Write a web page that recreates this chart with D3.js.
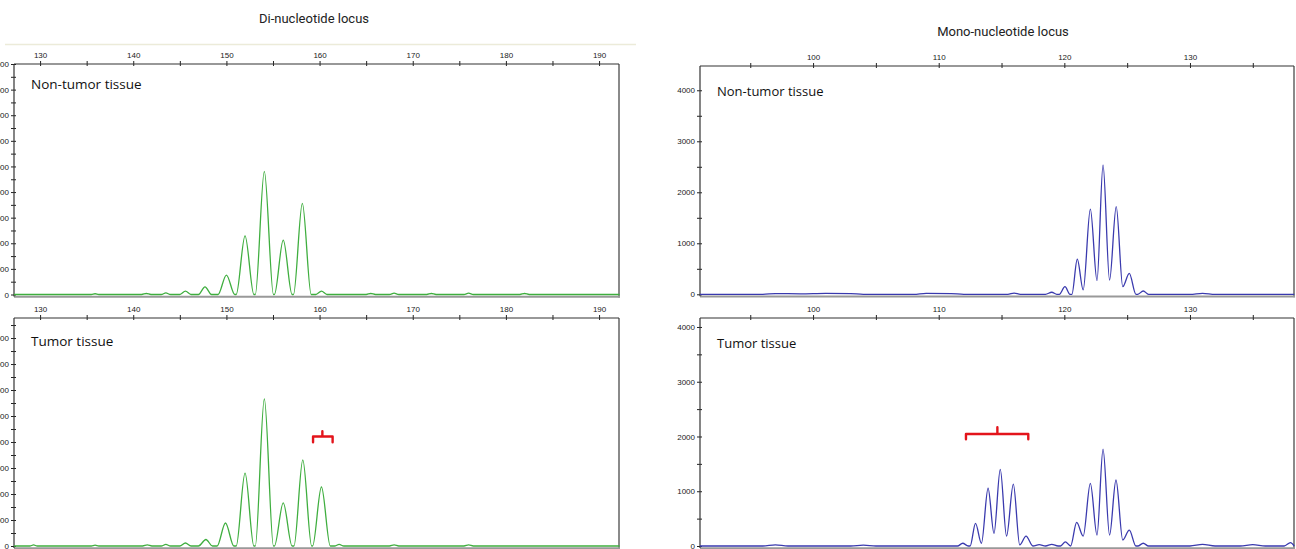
<!DOCTYPE html>
<html>
<head>
<meta charset="utf-8">
<script src="https://cdn.jsdelivr.net/npm/d3@7"></script>
<style>
  html, body { margin: 0; padding: 0; background: #fff; }
  svg { display: block; }
  .tick text { font-family: "Liberation Sans", Arial, sans-serif; font-size: 8px; fill: #222; }
  .tick line { stroke: #222; }
  .title { font-family: Roboto, sans-serif; font-size: 13px; fill: #222; }
  .tissue { font-family: "Open Sans", sans-serif; font-size: 13.5px; fill: #111; }
</style>
</head>
<body>
<div id="visHolder"></div>
<script>
/* peak traces: fragment size (bp) and height (rfu) */
const diNormalSize = [127.2,135.5,135.9,136.3,140.9,141.4,141.9,143.0,143.5,144.0,145.0,145.6,146.2,147.0,147.7,148.4,149.1,150.0,150.9,151.05,152.0,152.95,153.1,154.07,155.05,155.15,156.1,157.05,157.2,158.15,159.1,159.6,160.2,160.8,165.0,165.5,166.0,167.5,168.0,168.5,171.5,172.0,172.5,175.5,176.0,176.5,181.5,182.0,182.5,192.2];
const diNormalRfu  = [0,0,30,0,0,40,0,0,60,0,0,130,0,0,300,0,0,760,0,0,2290,0,0,4810,0,0,2120,0,0,3560,0,0,130,0,0,40,0,0,50,0,0,40,0,0,50,0,0,40,0,0];

const diTumorSize = [127.2,128.9,129.3,129.7,135.5,135.9,136.3,141.0,141.5,142.0,143.0,143.5,144.0,145.0,145.6,146.2,147.0,147.8,148.5,149.0,149.9,150.8,151.05,152.0,152.95,153.1,154.07,155.05,155.15,156.1,157.05,157.25,158.2,159.15,159.25,160.2,161.15,161.6,162.1,162.6,167.5,168.0,168.5,175.5,176.0,176.5,192.2];
const diTumorRfu  = [0,0,40,0,0,30,0,0,40,0,0,60,0,0,115,0,0,250,0,0,885,0,0,2800,0,0,5655,0,0,1655,0,0,3310,0,0,2270,0,0,60,0,0,40,0,0,40,0,0];

const monoNormalSize = [91.0,96.0,97.0,99.0,101.0,103.0,104.0,108.0,109.0,111.0,112.0,115.5,116.0,116.5,118.5,119.0,119.4,119.6,120.05,120.45,120.6,121.03,121.5,122.07,122.6,123.08,123.6,124.13,124.65,125.17,125.7,125.85,126.28,126.7,130.0,131.0,132.0,138.3];
const monoNormalRfu  = [0,0,15,10,20,15,0,0,20,15,0,0,25,0,0,40,0,0,150,0,0,690,85,1670,270,2535,280,1720,150,410,0,0,65,0,0,20,0,0];

const monoTumorSize = [91.0,96.0,97.0,98.0,103.0,104.0,105.0,111.5,111.91,112.35,112.5,112.93,113.4,113.93,114.4,114.9,115.4,115.94,116.45,116.95,117.5,118.0,118.5,119.0,119.5,119.7,120.08,120.5,120.98,121.5,122.07,122.6,123.08,123.6,124.11,124.65,125.17,125.7,125.85,126.28,126.7,130.0,131.0,132.0,134.0,135.0,136.0,137.5,138.0,138.3];
const monoTumorRfu  = [0,0,20,0,0,15,0,0,50,0,0,415,50,1055,230,1400,180,1130,20,180,0,25,0,30,0,0,75,0,430,180,1145,200,1770,200,1205,110,290,0,0,50,0,0,30,0,0,25,0,0,60,0];

/* red brackets marking the new alleles: [from, centre, to] bp and [end, bar, tip] rfu */
const diBracketSize = [159.3, 160.3, 161.4];
const diBracketRfu  = [3990, 4210, 4415];
const monoBracketSize = [112.17, 114.67, 117.13];
const monoBracketRfu  = [1950, 2045, 2170];

/* axis ticks */
const diTicks = [130,135,140,145,150,155,160,165,170,175,180,185,190];
const monoTicks = [95,100,105,110,115,120,125,130,135];
const diNormalYTicks = [0,500,1000,1500,2000,2500,3000,3500,4000,4500,5000,5500,6000,6500,7000,7500,8000,8500,9000];
const diTumorYTicks  = [0,500,1000,1500,2000,2500,3000,3500,4000,4500,5000,5500,6000,6500,7000,7500,8000,8500];
const monoYTicks = [0,500,1000,1500,2000,2500,3000,3500,4000];

const width = 1296, height = 549;

const svg = d3.select("#visHolder")
    .append("svg")
    .attr("width", width)
    .attr("height", height);

/* titles */
svg.append("text").attr("class", "title")
    .attr("x", 314).attr("y", 23).attr("text-anchor", "middle")
    .text("Di-nucleotide locus");
svg.append("text").attr("class", "title")
    .attr("x", 1003).attr("y", 36).attr("text-anchor", "middle")
    .text("Mono-nucleotide locus");

/* faint strip left under the first title */
svg.append("line")
    .attr("x1", 5).attr("x2", 636).attr("y1", 44.5).attr("y2", 44.5)
    .attr("stroke", "#ecebd9").attr("stroke-width", 1.5);

function drawPanel(p){
    const x = d3.scaleLinear().domain(p.xDomain).range([p.left, p.right]);
    const y = d3.scaleLinear().domain(p.yDomain).range([p.zero, p.top]);

    /* right border and bottom base line (gray) */
    svg.append("line")
        .attr("x1", p.right).attr("x2", p.right).attr("y1", p.top).attr("y2", p.zero + 3)
        .attr("stroke", "#8a8a8a").attr("stroke-width", 2);
    svg.append("line")
        .attr("x1", p.left).attr("x2", p.right + 1).attr("y1", p.zero + 2.2).attr("y2", p.zero + 2.2)
        .attr("stroke", "#999").attr("stroke-width", 2);

    /* top axis */
    const xAxis = d3.axisTop(x)
        .tickValues(p.xTicks)
        .tickSize(3)
        .tickSizeOuter(0)
        .tickFormat(d => d % 10 === 0 ? d : "");
    const gx = svg.append("g")
        .attr("transform", "translate(0," + p.top + ")")
        .call(xAxis);
    gx.select(".domain").remove();
    gx.selectAll(".tick line").attr("y1", 2).attr("y2", -3);
    gx.selectAll(".tick text").attr("y", -6);
    svg.append("line")
        .attr("x1", p.left).attr("x2", p.right).attr("y1", p.top).attr("y2", p.top)
        .attr("stroke", "#333").attr("stroke-width", 1.2);

    /* left axis, labels run off the page edge on the left panels like the source */
    const yAxis = d3.axisLeft(y)
        .tickValues(p.yTicks)
        .tickSize(3)
        .tickSizeOuter(0)
        .tickFormat(d => d % 1000 === 0 ? d : "");
    const gy = svg.append("g")
        .attr("transform", "translate(" + p.left + ",0)")
        .call(yAxis);
    gy.select(".domain").remove();
    gy.selectAll(".tick line").attr("x1", 2).attr("x2", -3);
    gy.selectAll(".tick text").attr("x", -5);
    svg.append("line")
        .attr("x1", p.left).attr("x2", p.left).attr("y1", p.top).attr("y2", p.zero + 2)
        .attr("stroke", "#333").attr("stroke-width", 1.2);

    /* the trace */
    const pts = p.size.map((s, i) => [s, p.rfu[i]]);
    const line = d3.line()
        .x(d => x(d[0]))
        .y(d => y(d[1]))
        .curve(d3.curveMonotoneX);
    svg.append("path")
        .datum(pts)
        .attr("d", line)
        .attr("fill", "none")
        .attr("stroke", p.color)
        .attr("stroke-width", 1.3)
        .attr("stroke-linejoin", "round");

    /* label */
    svg.append("text").attr("class", "tissue")
        .attr("x", p.labelX).attr("y", p.labelY)
        .style("font-size", p.labelSize + "px")
        .text(p.label);

    /* bracket */
    if(p.bracketSize){
        const bs = p.bracketSize, br = p.bracketRfu;
        const bp = [[bs[0], br[0]], [bs[0], br[1]], [bs[1], br[1]], [bs[1], br[2]],
                    [bs[1], br[1]], [bs[2], br[1]], [bs[2], br[0]]];
        svg.append("path")
            .attr("d", d3.line().x(d => x(d[0])).y(d => y(d[1]))(bp))
            .attr("fill", "none")
            .attr("stroke", "#e3141b")
            .attr("stroke-width", 2.4)
            .attr("stroke-linejoin", "round")
            .attr("stroke-linecap", "round");
    }
}

drawPanel({left: 14, right: 619, top: 64, zero: 294.5,
    xDomain: [127.2, 192.14], yDomain: [0, 9000],
    xTicks: diTicks, yTicks: diNormalYTicks,
    size: diNormalSize, rfu: diNormalRfu, color: "#3fae3f",
    label: "Non-tumor tissue", labelX: 31, labelY: 89, labelSize: 13.5});

drawPanel({left: 14, right: 619, top: 318, zero: 546,
    xDomain: [127.2, 192.14], yDomain: [0, 8770],
    xTicks: diTicks, yTicks: diTumorYTicks,
    size: diTumorSize, rfu: diTumorRfu, color: "#3fae3f",
    label: "Tumor tissue", labelX: 31, labelY: 346, labelSize: 13.5,
    bracketSize: diBracketSize, bracketRfu: diBracketRfu});

drawPanel({left: 700, right: 1294, top: 66, zero: 294.3,
    xDomain: [91.0, 138.28], yDomain: [0, 4476],
    xTicks: monoTicks, yTicks: monoYTicks,
    size: monoNormalSize, rfu: monoNormalRfu, color: "#3a3aae",
    label: "Non-tumor tissue", labelX: 717, labelY: 96, labelSize: 13});

drawPanel({left: 700, right: 1294, top: 318, zero: 546,
    xDomain: [91.0, 138.28], yDomain: [0, 4164],
    xTicks: monoTicks, yTicks: monoYTicks,
    size: monoTumorSize, rfu: monoTumorRfu, color: "#3a3aae",
    label: "Tumor tissue", labelX: 717, labelY: 348, labelSize: 13,
    bracketSize: monoBracketSize, bracketRfu: monoBracketRfu});
</script>
</body>
</html>
